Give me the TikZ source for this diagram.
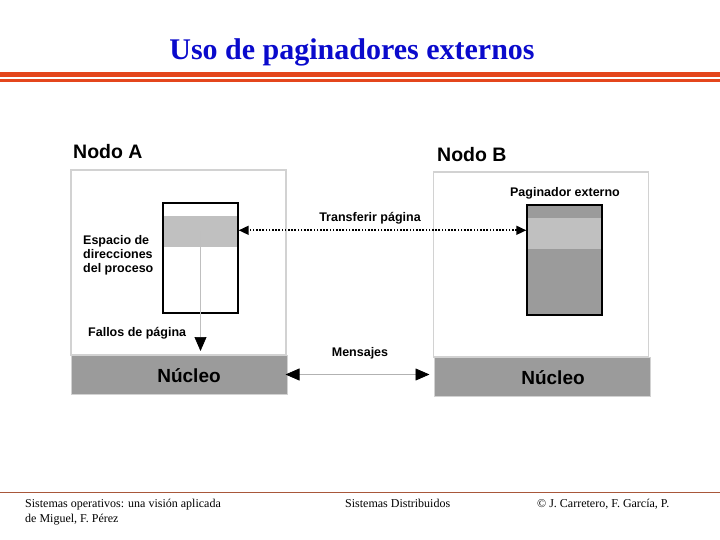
\documentclass[tikz,border=0pt]{standalone}
\usepackage{fontspec}
\setmainfont{Liberation Serif}
\setsansfont{Liberation Sans}
\usetikzlibrary{arrows.meta,positioning}
\definecolor{titleblue}{HTML}{0A0ACC}
\definecolor{barred}{HTML}{E4461C}
\definecolor{footbrown}{HTML}{A8573A}
\definecolor{frame}{HTML}{D2D2D2}
\definecolor{kern}{HTML}{9B9B9B}
\definecolor{band}{HTML}{C0C0C0}
\tikzset{nodebox/.style={draw=frame,fill=white,line width=1.2pt,minimum width=215pt,minimum height=185pt,inner sep=0pt},kernel/.style={draw=frame,fill=kern,line width=1pt,minimum width=216pt,minimum height=39pt,inner sep=0pt},mem/.style={draw=black,line width=1.4pt,minimum width=75pt,minimum height=110pt,inner sep=0pt,path picture={\fill[band]([yshift=-#1]path picture bounding box.north west) rectangle ([yshift=-#1-31pt]path picture bounding box.north east);}},lbl/.style={font=\sffamily\bfseries\fontsize{12.5}{14}\selectfont,inner sep=0pt},big/.style={font=\sffamily\bfseries\fontsize{19.5}{22}\selectfont,inner sep=0pt},kname/.style={font=\sffamily\bfseries\fontsize{19}{22}\selectfont,inner sep=0pt},foot/.style={font=\fontsize{12}{14}\selectfont,inner sep=0pt,anchor=base west},xfer/.style={{Triangle[length=10pt,width=9pt]}-{Triangle[length=10pt,width=9pt]},line width=1.6pt,dash pattern=on 1.6pt off 1.6pt},msg/.style={{Triangle[length=14pt,width=12pt,color=black]}-{Triangle[length=14pt,width=12pt,color=black]},draw=black!30,line width=0.8pt},fault/.style={-{Triangle[length=14pt,width=12pt,color=black]},draw=black!25,line width=0.7pt}}
\begin{document}
\begin{tikzpicture}[x=1pt,y=-1pt]
\useasboundingbox (0,0) rectangle (720,540);
% title and bars
\node[font=\bfseries\fontsize{30}{32}\selectfont,text=titleblue,inner sep=0pt,anchor=base] (title) at (352,60) {Uso de paginadores externos};
\fill[barred] (0,72.5) rectangle (720,77);
\fill[barred] (0,79.5) rectangle (720,82.5);
% nodo A
\node[nodebox] (boxA) at (178.5,262.5) {};
\node[kernel] (nucA) at (179,374.5) {};
\node[kname] (nucAtxt) at ([xshift=10pt,yshift=-1pt]nucA.center) {Núcleo};
\node[big,anchor=west] (nameA) at (73,152) {Nodo A};
\node[mem=13pt,fill=white] (procA) at (200.5,258) {};
\node[lbl,anchor=west,align=left] (espA) at (83,255) {Espacio de\\direcciones\\del proceso};
\node[lbl,anchor=west] (fallos) at (88,333) {Fallos de página};
% nodo B
\node[nodebox] (boxB) at (541,264.5) {};
\node[kernel] (nucB) at (542,376.5) {};
\node[kname] (nucBtxt) at ([xshift=11pt,yshift=-1pt]nucB.center) {Núcleo};
\node[big,anchor=west] (nameB) at (437,155) {Nodo B};
\node[mem=13pt,fill=kern] (pager) at (564.5,260) {};
\node[lbl] (pagtxt) at (565,193) {Paginador externo};
% connectors
\coordinate (hit) at ([yshift=-29pt]procA.north);
\coordinate (src) at ([yshift=-26pt]pager.north west);
\draw[xfer] (src) -- (procA.east |- src);
\node[lbl] (xfertxt) at (370,218) {Transferir página};
\draw[fault,shorten >=3.5pt] (hit) -- (hit |- nucA.north);
\draw[msg,shorten <=-2pt,shorten >=4pt] (nucA.east) -- (nucB.west |- nucA.east);
\node[lbl] (msgtxt) at (360,353) {Mensajes};
% footer
\draw[footbrown,line width=1pt] (0,492) -- (720,492);
\node[foot] (f1) at (25,507) {Sistemas operativos: una visión aplicada};
\node[foot] (f2) at (25,522) {de Miguel, F. Pérez};
\node[foot] (f3) at (345,507) {Sistemas Distribuidos};
\node[foot] (f4) at (537,507) {© J. Carretero, F. García, P.};
\end{tikzpicture}
\end{document}
